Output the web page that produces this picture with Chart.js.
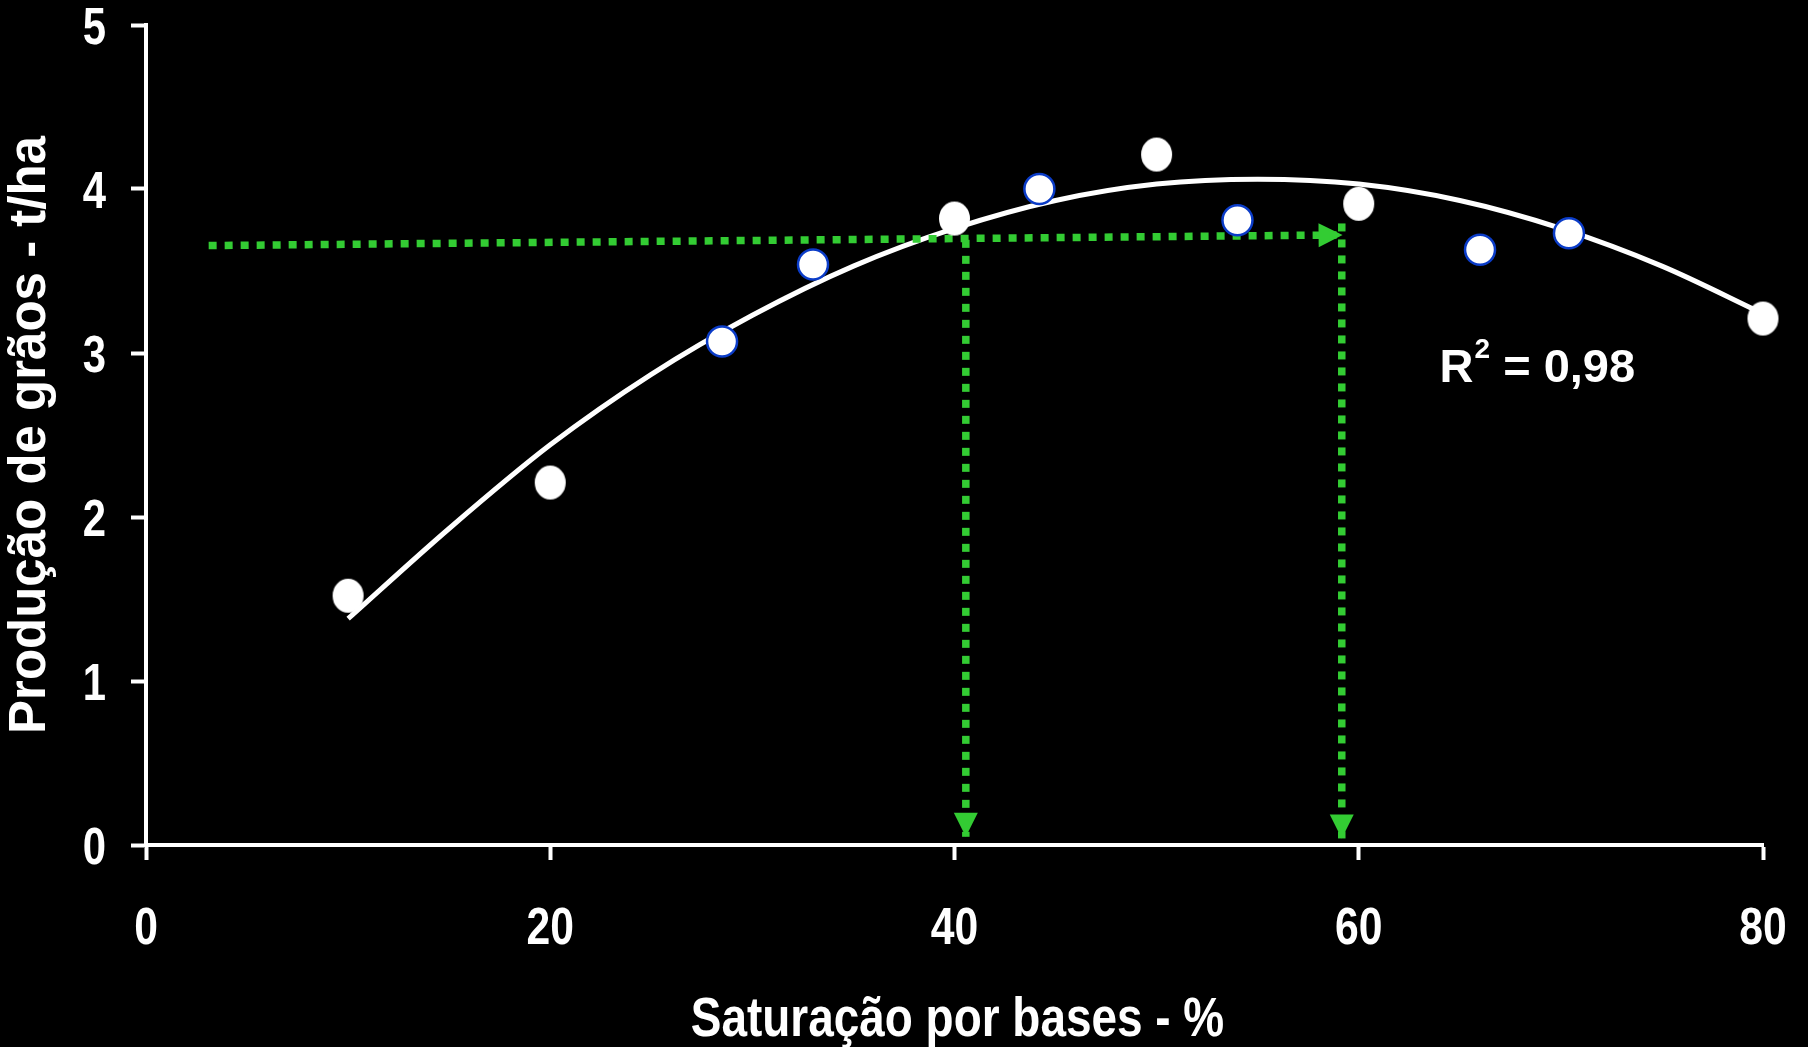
<!DOCTYPE html>
<html>
<head>
<meta charset="utf-8">
<script src="https://cdn.jsdelivr.net/npm/chart.js@4.4.1/dist/chart.umd.min.js"></script>
<style>
  html, body { margin: 0; padding: 0; background: #000; }
  canvas { display: block; }
</style>
</head>
<body>
<canvas id="chart" width="1808" height="1047"></canvas>
<script>
// Observed yield points (base saturation %, t/ha)
const plainX = [10, 20, 40, 50, 60, 80];
const plainY = [1.52, 2.21, 3.82, 4.21, 3.91, 3.21];
const ringX = [28.5, 33, 44.2, 54, 66, 70.4];
const ringY = [3.07, 3.54, 4.0, 3.81, 3.63, 3.73];

// Fitted response curve
const fitX = [10, 15, 20, 25, 30, 35, 40, 45, 50, 55, 60, 65, 70, 75, 80];
const fitY = [1.38, 1.93, 2.44, 2.87, 3.23, 3.53, 3.76, 3.93, 4.03, 4.06, 4.03, 3.93, 3.76, 3.53, 3.24];

// Guide lines: target yield across to the curve, then down to the axis
const guideAcrossX = [3.1, 59.2];
const guideAcrossY = [3.655, 3.72];
const guideDown1X = [40.56, 40.56];
const guideDown1Y = [3.69, 0.05];
const guideDown2X = [59.16, 59.16];
const guideDown2Y = [3.79, 0.04];

const xTicks = [0, 20, 40, 60, 80];
const yTicks = [0, 1, 2, 3, 4, 5];
const xTitle = 'Saturação por bases - %';
const yTitle = 'Produção de grãos - t/ha';
const r2Text = '0,98';

const GREEN = '#33cc33';
const RING = '#0b3cc8';
const FONT = "'Liberation Sans', Arial, sans-serif";

const pairs = (xs, ys) => xs.map((x, i) => ({ x: x, y: ys[i] }));

// slightly tall white ellipse for the plain markers
const ellipse = document.createElement('canvas');
ellipse.width = 33;
ellipse.height = 36;
(function () {
  const c = ellipse.getContext('2d');
  c.fillStyle = '#fff';
  c.beginPath();
  c.ellipse(16.5, 18, 15.5, 17, 0, 0, Math.PI * 2);
  c.fill();
})();

// no narrow face installed, so squeeze the bold face by hand
function squeezed(ctx, text, px, py) {
  ctx.save();
  ctx.translate(px, py);
  ctx.scale(0.82, 1);
  ctx.fillText(text, 0, 0);
  ctx.restore();
}

const condensedLabels = {
  id: 'condensedLabels',
  afterDraw(chart) {
    const { ctx } = chart;
    const { x, y } = chart.scales;
    ctx.save();
    ctx.fillStyle = '#fff';
    ctx.textBaseline = 'alphabetic';
    ctx.textAlign = 'center';
    ctx.font = 'bold 52px ' + FONT;
    xTicks.forEach(v => squeezed(ctx, String(v), x.getPixelForValue(v), x.top + 99));
    ctx.textAlign = 'right';
    ctx.font = 'bold 51px ' + FONT;
    yTicks.forEach(v => squeezed(ctx, String(v), y.right - 40, y.getPixelForValue(v) + 19));
    ctx.textAlign = 'center';
    ctx.font = 'bold 56px ' + FONT;
    squeezed(ctx, xTitle, (x.left + x.right) / 2 + 3, x.bottom - 11);
    ctx.restore();
  }
};

const arrowHeads = {
  id: 'arrowHeads',
  afterDatasetsDraw(chart) {
    const ctx = chart.ctx;
    chart.data.datasets.forEach((ds, i) => {
      if (!ds.arrow) return;
      const pts = chart.getDatasetMeta(i).data;
      const tip = pts[pts.length - 1];
      const prev = pts[pts.length - 2];
      const ang = Math.atan2(tip.y - prev.y, tip.x - prev.x);
      ctx.save();
      ctx.translate(tip.x, tip.y);
      ctx.rotate(ang);
      ctx.beginPath();
      ctx.moveTo(0, 0);
      ctx.lineTo(-24, -12);
      ctx.lineTo(-24, 12);
      ctx.closePath();
      ctx.fillStyle = ds.borderColor;
      ctx.fill();
      ctx.restore();
    });
  }
};

const r2Label = {
  id: 'r2Label',
  afterDraw(chart) {
    const ctx = chart.ctx;
    const x = chart.scales.x.getPixelForValue(64.0);
    const y = chart.scales.y.getPixelForValue(2.9);
    ctx.save();
    ctx.fillStyle = '#fff';
    ctx.textBaseline = 'middle';
    ctx.textAlign = 'left';
    ctx.font = 'bold 47px ' + FONT;
    ctx.fillText('R', x, y);
    let w = ctx.measureText('R').width;
    ctx.font = 'bold 28px ' + FONT;
    ctx.fillText('2', x + w + 1, y - 19);
    w += ctx.measureText('2').width + 1;
    ctx.font = 'bold 47px ' + FONT;
    ctx.fillText(' = ' + r2Text, x + w, y);
    ctx.restore();
  }
};

const guide = (xs, ys) => ({
  data: pairs(xs, ys),
  showLine: true,
  borderColor: GREEN,
  borderWidth: 7.5,
  borderDash: [8, 8],
  pointRadius: 0,
  arrow: true,
  order: 1
});

new Chart(document.getElementById('chart'), {
  type: 'scatter',
  data: {
    datasets: [
      {
        data: pairs(plainX, plainY),
        pointStyle: ellipse,
        order: 0,
        clip: false
      },
      {
        data: pairs(ringX, ringY),
        pointStyle: 'circle',
        pointRadius: 15,
        pointBackgroundColor: '#fff',
        pointBorderColor: RING,
        pointBorderWidth: 2.5,
        order: 0,
        clip: false
      },
      guide(guideAcrossX, guideAcrossY),
      guide(guideDown1X, guideDown1Y),
      guide(guideDown2X, guideDown2Y),
      {
        data: pairs(fitX, fitY),
        showLine: true,
        borderColor: '#fff',
        borderWidth: 5,
        cubicInterpolationMode: 'monotone',
        pointRadius: 0,
        order: 2
      }
    ]
  },
  options: {
    responsive: false,
    animation: false,
    layout: { padding: { top: 25, right: 45, left: 0, bottom: 0 } },
    plugins: {
      legend: { display: false },
      tooltip: { enabled: false }
    },
    scales: {
      x: {
        type: 'linear',
        min: 0,
        max: 80,
        afterFit(scale) { scale.height = 202; },
        afterBuildTicks(scale) { scale.ticks = xTicks.map(v => ({ value: v })); },
        border: { display: true, color: '#fff', width: 4 },
        grid: { drawOnChartArea: false, drawTicks: true, tickLength: 15, tickWidth: 4, tickColor: '#fff' },
        ticks: { display: false }
      },
      y: {
        type: 'linear',
        min: 0,
        max: 5,
        afterFit(scale) { scale.width = 146; },
        afterBuildTicks(scale) { scale.ticks = yTicks.map(v => ({ value: v })); },
        border: { display: true, color: '#fff', width: 4 },
        grid: { drawOnChartArea: false, drawTicks: true, tickLength: 15, tickWidth: 4, tickColor: '#fff' },
        ticks: { display: false },
        title: {
          display: true,
          text: yTitle,
          color: '#fff',
          padding: 0,
          font: { family: FONT, size: 51, weight: 'bold', lineHeight: 1.2 }
        }
      }
    }
  },
  plugins: [arrowHeads, r2Label, condensedLabels]
});
</script>
</body>
</html>
